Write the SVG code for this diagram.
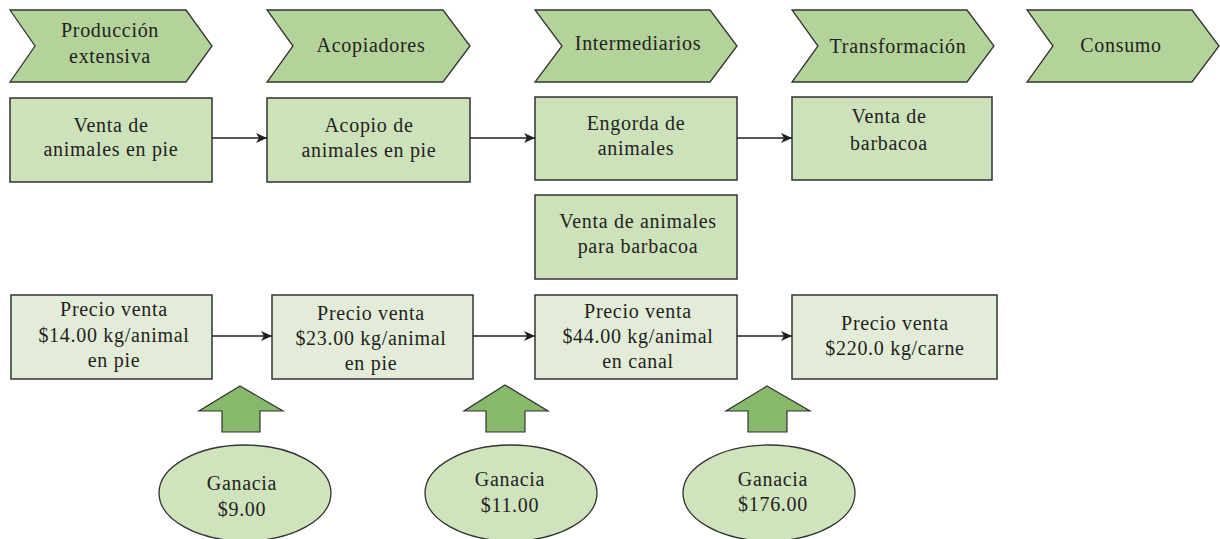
<svg xmlns="http://www.w3.org/2000/svg" width="1220" height="539" viewBox="0 0 1220 539">
<defs>
<style>
text{font-family:"Liberation Serif","Times New Roman",serif;font-size:20px;fill:#231f20;text-anchor:middle;letter-spacing:0.7px}
.chev{fill:#b3d39b;stroke:#333;stroke-width:1.3}
.box{fill:#cde2bb;stroke:#333;stroke-width:1.5}
.pbox{fill:#e2ecd8;stroke:#333;stroke-width:1.5}
.up{fill:#88b96a;stroke:#333;stroke-width:1.2}
.ell{fill:#cfe3bd;stroke:#333;stroke-width:1.3}
.conn{stroke:#231f20;stroke-width:1.3;fill:none}
</style>
<marker id="ah" markerWidth="12" markerHeight="12" viewBox="0 0 12 12" refX="11" refY="6" orient="auto" markerUnits="userSpaceOnUse">
<path d="M0,1 L11,6 L0,11 L3,6 Z" fill="#231f20"/>
</marker>
</defs>
<rect width="1220" height="539" fill="#fff"/>

<g id="chevron-produccion">
<polygon class="chev" points="10,10 186,10 212,46 186,82 10,82 35,46"/>
<text x="110" y="37">Producción</text>
<text x="110" y="63">extensiva</text>
</g>
<g id="chevron-acopiadores">
<polygon class="chev" points="267,10 443,10 470,46 443,82 267,82 293,46"/>
<text x="371" y="52">Acopiadores</text>
</g>
<g id="chevron-intermediarios">
<polygon class="chev" points="535,10 710,10 737,46 710,82 535,82 562,46"/>
<text x="638" y="50">Intermediarios</text>
</g>
<g id="chevron-transformacion">
<polygon class="chev" points="792,10 967,10 994,46 967,82 792,82 818,46"/>
<text x="898" y="53">Transformación</text>
</g>
<g id="chevron-consumo">
<polygon class="chev" points="1027,10 1192,10 1219,46 1192,82 1027,82 1053,46"/>
<text x="1121" y="52">Consumo</text>
</g>

<g id="box-venta-pie">
<rect class="box" x="10" y="98" width="202" height="84"/>
<text x="111" y="132">Venta de</text>
<text x="111" y="156">animales en pie</text>
</g>
<g id="box-acopio">
<rect class="box" x="267" y="98" width="203" height="84"/>
<text x="369" y="132">Acopio de</text>
<text x="369" y="157">animales en pie</text>
</g>
<g id="box-engorda">
<rect class="box" x="535" y="97" width="202" height="83"/>
<text x="636" y="130">Engorda de</text>
<text x="636" y="155">animales</text>
</g>
<g id="box-venta-barbacoa">
<rect class="box" x="792" y="97" width="200" height="83"/>
<text x="889" y="123">Venta de</text>
<text x="889" y="150">barbacoa</text>
</g>
<g id="box-venta-animales-barbacoa">
<rect class="box" x="535" y="195" width="202" height="84"/>
<text x="638" y="228">Venta de animales</text>
<text x="638" y="253">para barbacoa</text>
</g>

<g id="precio-14">
<rect class="pbox" x="11" y="295" width="201" height="84"/>
<text x="114" y="316">Precio venta</text>
<text x="114" y="342">$14.00 kg/animal</text>
<text x="114" y="367">en pie</text>
</g>
<g id="precio-23">
<rect class="pbox" x="272" y="295" width="201" height="84"/>
<text x="371" y="320">Precio venta</text>
<text x="371" y="345">$23.00 kg/animal</text>
<text x="371" y="370">en pie</text>
</g>
<g id="precio-44">
<rect class="pbox" x="535" y="295" width="202" height="84"/>
<text x="638" y="318">Precio venta</text>
<text x="638" y="343">$44.00 kg/animal</text>
<text x="638" y="368">en canal</text>
</g>
<g id="precio-220">
<rect class="pbox" x="792" y="295" width="205" height="84"/>
<text x="895" y="330">Precio venta</text>
<text x="895" y="355">$220.0 kg/carne</text>
</g>

<g id="up-arrow-1">
<polygon class="up" points="240,386 283,411 260,411 260,432 222,432 222,411 199,411"/>
</g>
<g id="up-arrow-2">
<polygon class="up" points="505,385 548,411 525,411 525,432 486,432 486,411 464,411"/>
</g>
<g id="up-arrow-3">
<polygon class="up" points="767,386 810,411 787,411 787,432 748,432 748,411 726,411"/>
</g>

<g id="ganancia-9">
<ellipse class="ell" cx="245" cy="493" rx="86" ry="48"/>
<text x="242" y="490">Ganacia</text>
<text x="242" y="516">$9.00</text>
</g>
<g id="ganancia-11">
<ellipse class="ell" cx="511" cy="493" rx="86" ry="48"/>
<text x="510" y="486">Ganacia</text>
<text x="510" y="512">$11.00</text>
</g>
<g id="ganancia-176">
<ellipse class="ell" cx="769" cy="493" rx="86" ry="48"/>
<text x="773" y="486">Ganacia</text>
<text x="773" y="511">$176.00</text>
</g>

<g id="connectors">
<line class="conn" x1="212" y1="138" x2="267" y2="138" marker-end="url(#ah)"/>
<line class="conn" x1="470" y1="138" x2="535" y2="138" marker-end="url(#ah)"/>
<line class="conn" x1="737" y1="138" x2="792" y2="138" marker-end="url(#ah)"/>
<line class="conn" x1="212" y1="336" x2="272" y2="336" marker-end="url(#ah)"/>
<line class="conn" x1="473" y1="336" x2="535" y2="336" marker-end="url(#ah)"/>
<line class="conn" x1="737" y1="336" x2="792" y2="336" marker-end="url(#ah)"/>
</g>
</svg>
